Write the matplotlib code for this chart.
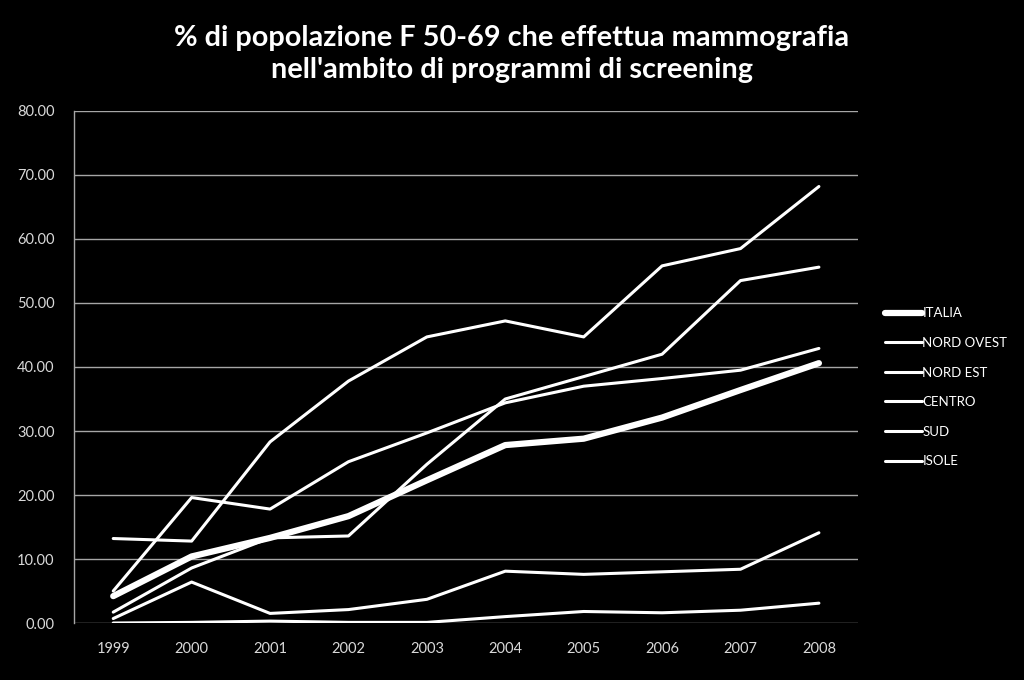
import matplotlib
matplotlib.use("Agg")
import matplotlib.pyplot as plt
import numpy as np

years = ["1999", "2000", "2001", "2002", "2003", "2004", "2005", "2006", "2007", "2008"]
italia = [4.2, 10.4, 13.3, 16.7, 22.3, 27.8, 28.8, 32.1, 36.4, 40.6]
nord_ovest = [5.0, 19.6, 17.8, 25.2, 29.7, 34.4, 37.0, 38.2, 39.5, 42.9]
nord_est = [13.2, 12.8, 28.3, 37.8, 44.7, 47.2, 44.7, 55.8, 58.5, 68.2]
centro = [1.7, 8.6, 13.3, 13.6, 24.8, 35.0, 38.5, 42.0, 53.5, 55.6]
sud = [0.7, 6.4, 1.5, 2.1, 3.7, 8.1, 7.6, 8.0, 8.4, 14.1]
isole = [0.0, 0.1, 0.3, 0.1, 0.1, 1.0, 1.8, 1.6, 2.0, 3.1]
series = [("ITALIA", italia), ("NORD OVEST", nord_ovest), ("NORD EST", nord_est),
          ("CENTRO", centro), ("SUD", sud), ("ISOLE", isole)]
yticks = [0, 10, 20, 30, 40, 50, 60, 70, 80]

plt.rcParams['font.family'] = ['Lato', 'DejaVu Sans']
fig = plt.figure(figsize=(10.24, 6.80), dpi=100, facecolor='black')
ax = fig.add_axes([0.0723, 0.0838, 0.7657, 0.753])
ax.set_facecolor('black')

x = np.arange(len(years))
for name, vals in series:
    lw = 4.5 if name == "ITALIA" else 2.2
    ax.plot(x, vals, color='white', lw=lw, label=name, solid_capstyle='round',
            solid_joinstyle='round', zorder=3)

ax.set_xlim(-0.5, len(years) - 0.5)
ax.set_ylim(0, 80)
ax.set_yticks(yticks)
ax.set_yticklabels([f"{v:.2f}" for v in yticks])
ax.set_xticks(x)
ax.set_xticklabels(years)
ax.grid(axis='y', color='#a6a6a6', lw=1.0, zorder=1)
ax.tick_params(axis='both', length=0, colors='#d9d9d9', labelsize=10.5)
ax.tick_params(axis='y', pad=14)
ax.tick_params(axis='x', pad=14)
for s in ['top', 'right', 'bottom']:
    ax.spines[s].set_visible(False)
ax.spines['left'].set_color('#a6a6a6')
ax.spines['left'].set_linewidth(1.0)

fig.text(0.5, 0.921, "% di popolazione F 50-69 che effettua mammografia\nnell'ambito di programmi di screening",
         ha='center', va='center', color='white', fontsize=20.8, fontweight='bold', linespacing=1.3)

leg = ax.legend(loc='upper left', bbox_to_anchor=(1.029, 0.624), frameon=False,
                labelcolor='white', fontsize=9.5, handlelength=2.8, handletextpad=0.05,
                labelspacing=1.33, borderaxespad=0.0, borderpad=0.3)

fig.savefig("out.png", dpi=100, facecolor='black')
